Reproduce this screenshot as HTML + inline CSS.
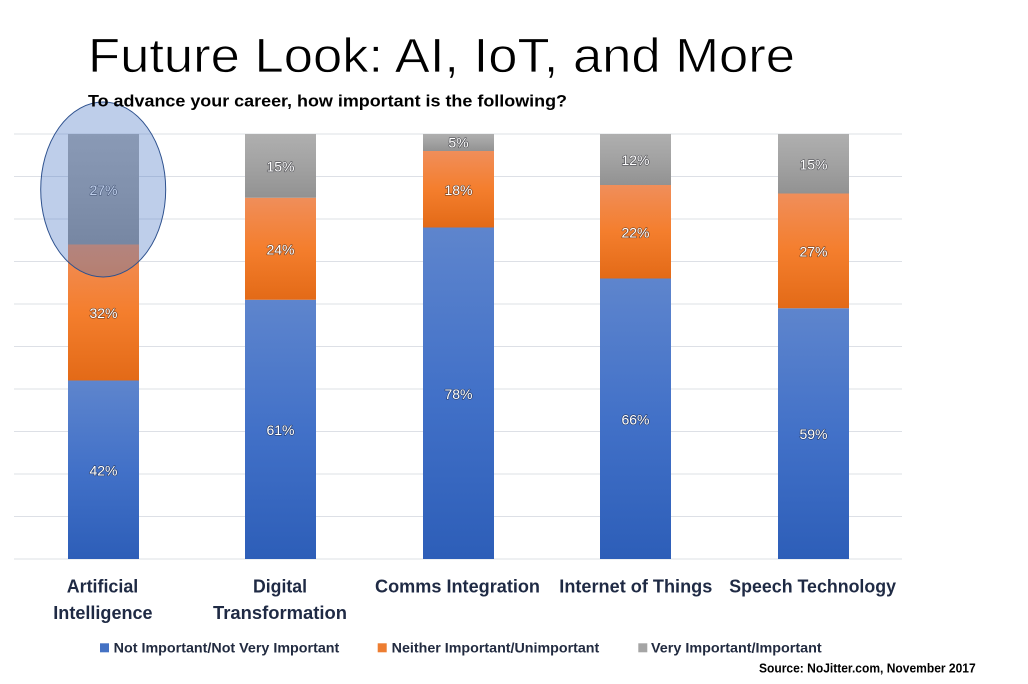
<!DOCTYPE html>
<html>
<head>
<meta charset="utf-8">
<style>
  html,body{margin:0;padding:0;background:#ffffff;}
  svg{display:block;}
  text{font-family:"Liberation Sans", Arial, sans-serif;}
</style>
</head>
<body>
<svg width="1028" height="684" viewBox="0 0 1028 684" xmlns="http://www.w3.org/2000/svg">
  <defs>
    <linearGradient id="gB" x1="0" y1="0" x2="0" y2="1">
      <stop offset="0" stop-color="#5E85CD"/>
      <stop offset="0.5" stop-color="#4271C8"/>
      <stop offset="1" stop-color="#2D5EB8"/>
    </linearGradient>
    <linearGradient id="gO" x1="0" y1="0" x2="0" y2="1">
      <stop offset="0" stop-color="#F08E5A"/>
      <stop offset="0.5" stop-color="#F47E2D"/>
      <stop offset="1" stop-color="#E36A17"/>
    </linearGradient>
    <linearGradient id="gG" x1="0" y1="0" x2="0" y2="1">
      <stop offset="0" stop-color="#AFAFAF"/>
      <stop offset="0.5" stop-color="#A2A2A2"/>
      <stop offset="1" stop-color="#929292"/>
    </linearGradient>
  </defs>

  <rect x="0" y="0" width="1028" height="684" fill="#ffffff"/>

  <!-- Title -->
  <text x="88" y="72" font-size="48" fill="#000" stroke="#ffffff" stroke-width="0.7" textLength="707" lengthAdjust="spacingAndGlyphs">Future Look: AI, IoT, and More</text>

  <!-- Gridlines -->
  <g stroke="#DDE0E6" stroke-width="1">
    <line x1="14" y1="134" x2="902" y2="134"/>
    <line x1="14" y1="176.5" x2="902" y2="176.5"/>
    <line x1="14" y1="219" x2="902" y2="219"/>
    <line x1="14" y1="261.5" x2="902" y2="261.5"/>
    <line x1="14" y1="304" x2="902" y2="304"/>
    <line x1="14" y1="346.5" x2="902" y2="346.5"/>
    <line x1="14" y1="389" x2="902" y2="389"/>
    <line x1="14" y1="431.5" x2="902" y2="431.5"/>
    <line x1="14" y1="474" x2="902" y2="474"/>
    <line x1="14" y1="516.5" x2="902" y2="516.5"/>
    <line x1="14" y1="559" x2="902" y2="559"/>
  </g>

  <!-- Bars -->
  <rect x="68" y="380.5" width="71" height="178.5" fill="url(#gB)"/>
  <rect x="68" y="244.5" width="71" height="136" fill="url(#gO)"/>
  <rect x="68" y="134" width="71" height="110.5" fill="url(#gG)"/>

  <rect x="245" y="299.75" width="71" height="259.25" fill="url(#gB)"/>
  <rect x="245" y="197.75" width="71" height="102" fill="url(#gO)"/>
  <rect x="245" y="134" width="71" height="63.75" fill="url(#gG)"/>

  <rect x="423" y="227.5" width="71" height="331.5" fill="url(#gB)"/>
  <rect x="423" y="151" width="71" height="76.5" fill="url(#gO)"/>
  <rect x="423" y="134" width="71" height="17" fill="url(#gG)"/>

  <rect x="600" y="278.5" width="71" height="280.5" fill="url(#gB)"/>
  <rect x="600" y="185" width="71" height="93.5" fill="url(#gO)"/>
  <rect x="600" y="134" width="71" height="51" fill="url(#gG)"/>

  <rect x="778" y="308.25" width="71" height="250.75" fill="url(#gB)"/>
  <rect x="778" y="193.5" width="71" height="114.75" fill="url(#gO)"/>
  <rect x="778" y="134" width="71" height="59.5" fill="url(#gG)"/>

  <!-- Data labels -->
  <g font-size="14" fill="#ffffff" text-anchor="middle" stroke="rgba(20,20,30,0.55)" stroke-width="1.3" paint-order="stroke" stroke-linejoin="round">
    <text x="103.5" y="475.3">42%</text>
    <text x="103.5" y="318">32%</text>
    <text x="103.5" y="194.8">27%</text>

    <text x="280.5" y="434.9">61%</text>
    <text x="280.5" y="254.3">24%</text>
    <text x="280.5" y="171.4">15%</text>

    <text x="458.5" y="398.8">78%</text>
    <text x="458.5" y="194.8">18%</text>
    <text x="458.5" y="147.5">5%</text>

    <text x="635.5" y="424.3">66%</text>
    <text x="635.5" y="237.3">22%</text>
    <text x="635.5" y="165">12%</text>

    <text x="813.5" y="439.1">59%</text>
    <text x="813.5" y="256.4">27%</text>
    <text x="813.5" y="169.3">15%</text>
  </g>

  <!-- Highlight ellipse -->
  <ellipse cx="103.2" cy="189.5" rx="62.5" ry="87.5" fill="#4472C4" fill-opacity="0.35" stroke="#2F528F" stroke-width="1"/>

  <!-- Subtitle -->
  <text x="88" y="106.5" font-size="17" font-weight="bold" fill="#000" textLength="479" lengthAdjust="spacingAndGlyphs">To advance your career, how important is the following?</text>

  <!-- Category labels -->
  <g font-size="18" font-weight="bold" fill="#1F2A44">
    <text x="66.7" y="592.7" textLength="71.6" lengthAdjust="spacingAndGlyphs">Artificial</text>
    <text x="53.3" y="619" textLength="99.3" lengthAdjust="spacingAndGlyphs">Intelligence</text>
    <text x="253" y="592.7" textLength="54" lengthAdjust="spacingAndGlyphs">Digital</text>
    <text x="213" y="619" textLength="134" lengthAdjust="spacingAndGlyphs">Transformation</text>
    <text x="375" y="592.7" textLength="165" lengthAdjust="spacingAndGlyphs">Comms Integration</text>
    <text x="559.3" y="592.7" textLength="153" lengthAdjust="spacingAndGlyphs">Internet of Things</text>
    <text x="729.3" y="592.7" textLength="166.7" lengthAdjust="spacingAndGlyphs">Speech Technology</text>
  </g>

  <!-- Legend -->
  <rect x="100" y="643.3" width="9" height="9" fill="#4472C4"/>
  <rect x="377.7" y="643.3" width="9" height="9" fill="#ED7D31"/>
  <rect x="638.3" y="643.3" width="9" height="9" fill="#A5A5A5"/>
  <g font-size="13.5" font-weight="bold" fill="#222B40">
    <text x="113.7" y="652.3" textLength="225.6" lengthAdjust="spacingAndGlyphs">Not Important/Not Very Important</text>
    <text x="391.7" y="652.3" textLength="207.6" lengthAdjust="spacingAndGlyphs">Neither Important/Unimportant</text>
    <text x="651" y="652.3" textLength="170.7" lengthAdjust="spacingAndGlyphs">Very Important/Important</text>
  </g>

  <!-- Source -->
  <text x="759" y="672.3" font-size="12.5" font-weight="bold" fill="#000" textLength="216.7" lengthAdjust="spacingAndGlyphs">Source: NoJitter.com, November 2017</text>
</svg>
</body>
</html>
